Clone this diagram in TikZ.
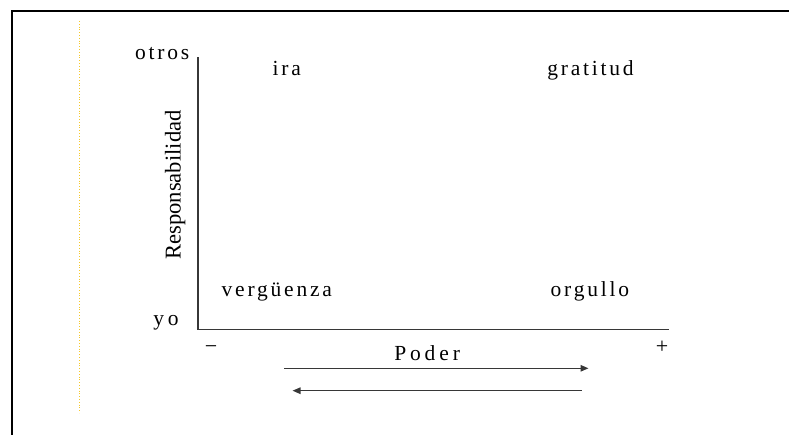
\documentclass[tikz,border=0pt]{standalone}
\usepackage{fontspec}
\setmainfont{Liberation Serif}
\newfontfamily\spacedfont[LetterSpace=13]{Liberation Serif}
\newfontfamily\widefont[LetterSpace=18]{Liberation Serif}
\usetikzlibrary{arrows.meta}
\definecolor{axisgray}{RGB}{55,55,55}
\definecolor{guidegold}{RGB}{245,200,40}
\tikzset{
  lbl/.style={inner sep=0pt, outer sep=0pt, anchor=base west,
    font=\fontsize{21.5}{26}\selectfont\spacedfont},
  widelbl/.style={lbl, font=\fontsize{21.5}{26}\selectfont\widefont},
  signlbl/.style={inner sep=0pt, outer sep=0pt, anchor=center,
    font=\fontsize{22}{26}\selectfont},
  axisline/.style={draw=axisgray, line width=1.3pt},
  flow/.style={draw=axisgray, line width=1.2pt,
    -{Triangle[length=8pt,width=6.5pt]}},
  frameline/.style={draw=black, line width=2pt},
  guide/.style={draw=guidegold, line width=0.8pt, dotted},
}
\begin{document}
\begin{tikzpicture}[x=1pt, y=-1pt]
\useasboundingbox (0,0) rectangle (789,435);

% outer frame (top and left edges)
\coordinate (frameBL) at (11.5,436);
\coordinate (frameTL) at (11.5,11);
\coordinate (frameTR) at (790,11);
\draw[frameline] (frameBL) -- (frameTL) -- (frameTR);

% dotted guide line
\coordinate (guideTop) at (79.3,21);
\coordinate (guideBot) at (79.3,413);
\draw[guide] (guideTop) -- (guideBot);

% axes
\coordinate (origin) at (198,329.3);
\coordinate (ytop) at (198,57.5);
\coordinate (xend) at (668.5,329.3);
\draw[axisline] (ytop) -- (origin) -- (xend);

% axis end labels
\node[lbl] (otros) at (135,60) {otros};
\node[widelbl] (yo) at (153.3,325) {yo};
\node[signlbl] (minus) at (211,350) {−};
\node[signlbl] (plus) at (662,347) {+};
\node[widelbl] (poder) at (394.3,360) {Poder};
\node[inner sep=0pt, anchor=base, rotate=90,
  font=\fontsize{22.6}{26}\selectfont] (resp) at (180.5,185) {Responsabilidad};

% quadrant labels
\node[lbl] (ira) at (272.7,76) {ira};
\node[lbl] (gratitud) at (547.3,76) {gratitud};
\node[lbl] (verguenza) at (221.7,296.7) {vergüenza};
\node[lbl] (orgullo) at (550.7,296.7) {orgullo};

% direction arrows
\coordinate (fwdStart) at (284,368.3);
\coordinate (fwdEnd) at (588.5,368.3);
\coordinate (backStart) at (581.7,390.7);
\coordinate (backEnd) at (292.5,390.7);
\draw[flow] (fwdStart) -- (fwdEnd);
\draw[flow] (backStart) -- (backEnd);
\end{tikzpicture}
\end{document}
